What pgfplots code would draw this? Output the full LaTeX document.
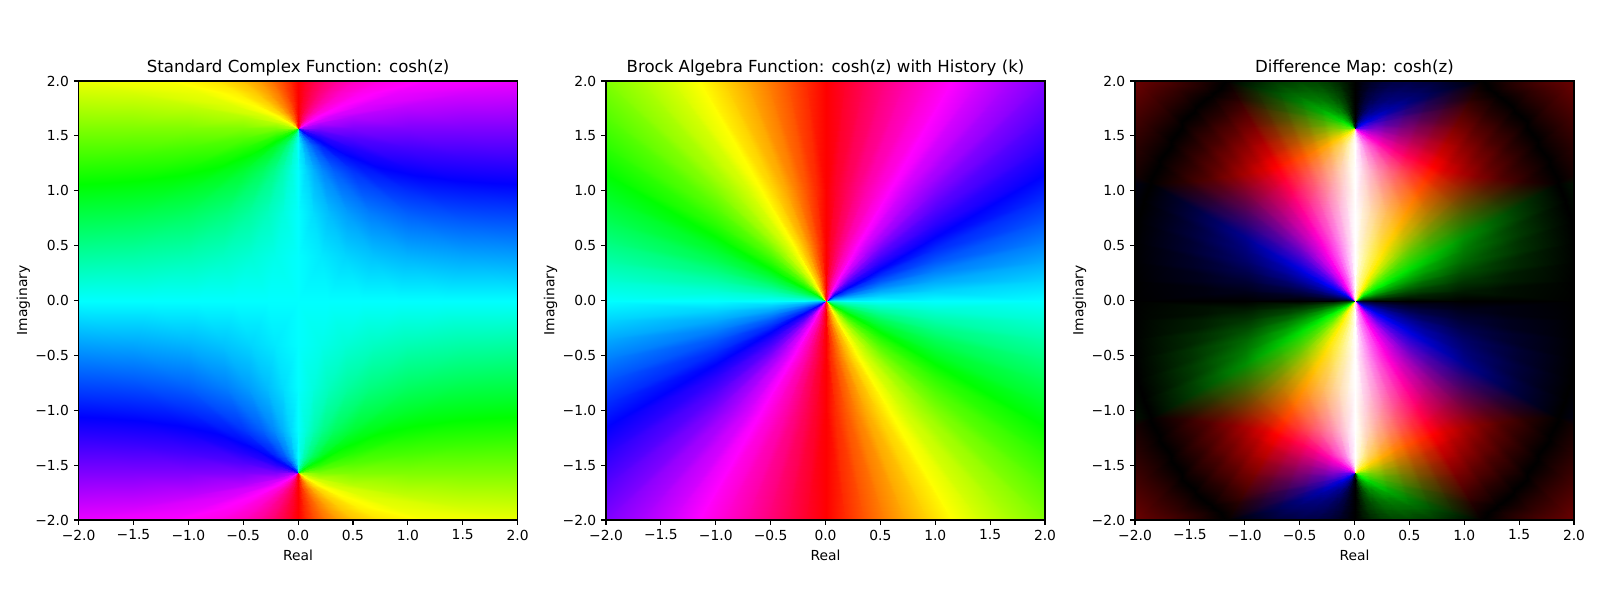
\documentclass[border=0pt]{standalone}
\usepackage{fontspec}
\setmainfont{DejaVu Sans}
\usepackage{pgfplots}
\usepackage{pgfplotstable}
\pgfplotsset{compat=1.18}

% phase of cosh(z) read for x>=0, y>=0, on rays out of the zero at (0,1.5708)
\pgfplotstableread{
x y a
0 1.5708 0
0 1.4137 0
0 1.1781 0
0 0.7854 0
0 0.3927 0
0 0 0
0 1.5708 10
0.0277 1.4137 9.9
0.0693 1.1781 9.5
0.1385 0.7854 7.8
0.2078 0.3927 4.85
0.277 0 0
0 1.5708 20
0.0572 1.4137 19.8
0.143 1.1781 18.9
0.286 0.7854 15.6
0.429 0.3927 9.5
0.572 0 0
0 1.5708 30
0.0907 1.4137 29.7
0.2268 1.1781 28.3
0.4535 0.7854 23.0
0.680 0.3927 13.8
0.907 0 0
0 1.5708 40
0.1318 1.4137 39.6
0.3295 1.1781 37.5
0.659 0.7854 30.0
0.9885 0.3927 17.4
1.318 0 0
0 1.5708 51.85
0.2 1.4137 51.2
0.5 1.1781 48.1
1 0.7854 37.3
1.5 0.3927 20.6
2 0 0
0 1.5708 60
0.2 1.4553 59.6
0.5 1.2821 57.3
1 0.9934 49.5
1.5 0.7048 37.6
2 0.416 23.1
0 1.5708 70
0.2 1.498 69.7
0.5 1.3888 68.3
1 1.2068 63.4
1.5 1.0248 56.1
2 0.8428 47.2
0 1.5708 80
0.2 1.5355 79.9
0.5 1.4826 79.2
1 1.3944 76.8
1.5 1.3063 73.3
2 1.2181 69.1
0 1.5708 90
0.2 1.5708 90
0.5 1.5708 90
1 1.5708 90
1.5 1.5708 90
2 1.5708 90
0 1.5708 102.11
0.2 1.6137 102.3
0.5 1.6781 103.1
1 1.7854 106.0
1.5 1.8927 110.2
2 2 115.4
0 1.5708 110
0.1179 1.6137 110.1
0.2948 1.6781 110.6
0.5895 1.7854 112.4
0.8843 1.8927 115.2
1.179 2 118.9
0 1.5708 120
0.0743 1.6137 120.0
0.1858 1.6781 120.4
0.3715 1.7854 121.5
0.5573 1.8927 123.4
0.743 2 126.0
0 1.5708 130
0.0512 1.6137 130.0
0.128 1.6781 130.3
0.256 1.7854 131.0
0.384 1.8927 132.3
0.512 2 134.1
0 1.5708 140
0.036 1.6137 140.0
0.09 1.6781 140.2
0.18 1.7854 140.8
0.27 1.8927 141.7
0.36 2 143.0
0 1.5708 150
0.0248 1.6137 150.0
0.062 1.6781 150.1
0.124 1.7854 150.5
0.186 1.8927 151.1
0.248 2 152.0
0 1.5708 160
0.0156 1.6137 160.0
0.039 1.6781 160.1
0.078 1.7854 160.4
0.117 1.8927 160.8
0.156 2 161.3
0 1.5708 170
0.0076 1.6137 170.0
0.0189 1.6781 170.05
0.0379 1.7854 170.1
0.0568 1.8927 170.3
0.0757 2 170.6
0 1.5708 180
0 1.6137 180
0 1.6781 180
0 1.7854 180
0 1.8927 180
0 2 180
}\coshtable

% phase of the history function, rays out of the origin
\pgfplotstableread{
x y a
0 0 0
0.08 0 0
0.2 0 0
0.5 0 0
1 0 0
2 0 0
0 0 10
0.08 0.007 10
0.2 0.0175 10
0.5 0.0438 10
1 0.0875 10
2 0.175 10
0 0 20
0.08 0.0141 20
0.2 0.0353 20
0.5 0.0882 20
1 0.1763 20
2 0.3527 20
0 0 30
0.08 0.0214 30
0.2 0.0536 30
0.5 0.134 30
1 0.268 30
2 0.5359 30
0 0 40
0.08 0.0291 40
0.2 0.0728 40
0.5 0.182 40
1 0.364 40
2 0.7279 40
0 0 50
0.08 0.0373 50
0.2 0.0933 50
0.5 0.2332 50
1 0.4663 50
2 0.9326 50
0 0 60
0.08 0.0462 60
0.2 0.1155 60
0.5 0.2887 60
1 0.5774 60
2 1.1547 60
0 0 70
0.08 0.056 70
0.2 0.14 70
0.5 0.3501 70
1 0.7002 70
2 1.4004 70
0 0 80
0.08 0.0671 80
0.2 0.1678 80
0.5 0.4196 80
1 0.8391 80
2 1.6782 80
0 0 90
0.08 0.08 90
0.2 0.2 90
0.5 0.5 90
1 1 90
2 2 90
0 0 100
0.0671 0.08 100
0.1678 0.2 100
0.4196 0.5 100
0.8391 1 100
1.6782 2 100
0 0 110
0.056 0.08 110
0.14 0.2 110
0.3501 0.5 110
0.7002 1 110
1.4004 2 110
0 0 120
0.0462 0.08 120
0.1155 0.2 120
0.2887 0.5 120
0.5774 1 120
1.1547 2 120
0 0 130
0.0373 0.08 130
0.0933 0.2 130
0.2332 0.5 130
0.4663 1 130
0.9326 2 130
0 0 140
0.0291 0.08 140
0.0728 0.2 140
0.182 0.5 140
0.364 1 140
0.7279 2 140
0 0 150
0.0214 0.08 150
0.0536 0.2 150
0.134 0.5 150
0.268 1 150
0.5359 2 150
0 0 160
0.0141 0.08 160
0.0353 0.2 160
0.0882 0.5 160
0.1763 1 160
0.3527 2 160
0 0 170
0.007 0.08 170
0.0175 0.2 170
0.0438 0.5 170
0.0875 1 170
0.175 2 170
0 0 180
0 0.08 180
0 0.2 180
0 0.5 180
0 1 180
0 2 180
}\brocktable

\newcommand{\quadplot}[6]{% table, cols, sign x, sign y, sign hue, extra options
  \addplot[surf, shader=interp, mesh/cols=#2, point meta={0.5+#5*\thisrow{a}/360}, #6]
    table[x expr={#3*\thisrow{x}}, y expr={#4*\thisrow{y}}] {#1};
}
\newcommand{\fourquads}[3]{% table, cols, extra options
  \quadplot{#1}{#2}{1}{1}{1}{#3}
  \quadplot{#1}{#2}{-1}{1}{-1}{#3}
  \quadplot{#1}{#2}{-1}{-1}{1}{#3}
  \quadplot{#1}{#2}{1}{-1}{-1}{#3}
}

\pgfplotsset{
  panel/.style={
    anchor=south west, scale only axis, width=4.39in, height=4.39in,
    xmin=-2, xmax=2, ymin=-2, ymax=2,
    xtick={-2,-1.5,...,2}, ytick={-2,-1.5,...,2},
    xticklabels={−2.0,−1.5,−1.0,−0.5,0.0,0.5,1.0,1.5,2.0},
    yticklabels={−2.0,−1.5,−1.0,−0.5,0.0,0.5,1.0,1.5,2.0},
    xtick pos=bottom, ytick pos=left, tick align=outside,
    major tick length=3.5pt,
    tick style={black, line width=0.8pt},
    axis line style={line width=0.8pt},
    axis on top,
    tick label style={font=\fontsize{10}{12}\selectfont},
    label style={font=\fontsize{10}{12}\selectfont},
    title style={font=\fontsize{12}{14}\selectfont, yshift=-6pt},
    ylabel shift=-3pt,
    xlabel={Real}, ylabel={Imaginary},
    colormap={huewheel}{rgb=(1,0,0) rgb=(1,1,0) rgb=(0,1,0) rgb=(0,1,1) rgb=(0,0,1) rgb=(1,0,1) rgb=(1,0,0)},
    point meta min=0, point meta max=1,
  },
}

\begin{document}
\begin{tikzpicture}[x=1in,y=1in]
\path[use as bounding box] (0,0) rectangle (16,6);

\begin{axis}[panel, at={(0.786in,0.8in)}, title={Standard Complex Function: cosh(z)}]
\fourquads{\coshtable}{6}{}
\end{axis}

\begin{axis}[panel, at={(6.06in,0.8in)}, title={Brock Algebra Function: cosh(z) with History (k)}]
\fourquads{\brocktable}{6}{}
\end{axis}

\begin{axis}[panel, at={(11.35in,0.8in)}, title={Difference Map: cosh(z)}]
\fourquads{\coshtable}{6}{}
\fourquads{\brocktable}{6}{blend mode=difference}
\end{axis}
\end{tikzpicture}
\end{document}
